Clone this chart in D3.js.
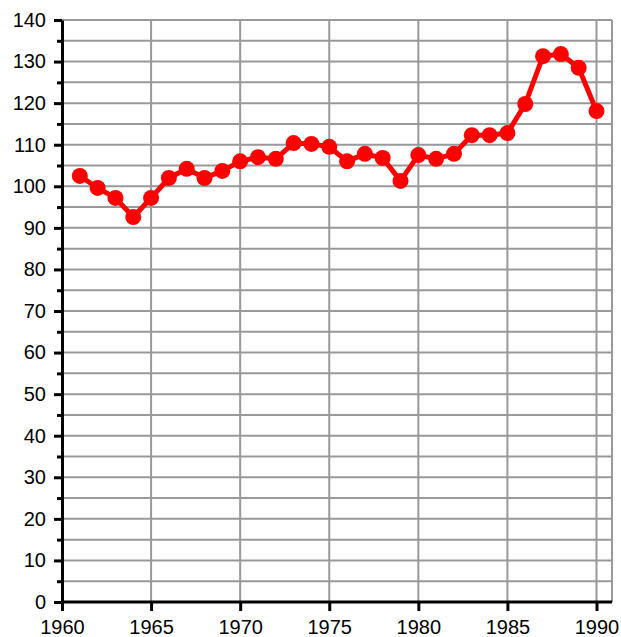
<!DOCTYPE html>
<html>
<head>
<meta charset="UTF-8">
<script src="https://d3js.org/d3.v7.min.js"></script>
<style>
  body { margin: 0; background: #fff; }
  text { font-family: "Liberation Sans", Arial, sans-serif; }
</style>
</head>
<body>
<script>
// years and values
const years = [1961, 1962, 1963, 1964, 1965, 1966, 1967, 1968, 1969, 1970,
               1971, 1972, 1973, 1974, 1975, 1976, 1977, 1978, 1979, 1980,
               1981, 1982, 1983, 1984, 1985, 1986, 1987, 1988, 1989, 1990];
const values = [102.5, 99.6, 97.2, 92.6, 97.2, 102, 104.2, 102, 103.7, 106,
                107, 106.6, 110.4, 110.2, 109.5, 106, 107.8, 106.8, 101.3, 107.5,
                106.6, 107.8, 112.3, 112.3, 112.8, 119.8, 131.3, 131.8, 128.5, 118.1];
const xTicks = [1960, 1965, 1970, 1975, 1980, 1985, 1990];
const yTicks = [0, 10, 20, 30, 40, 50, 60, 70, 80, 90, 100, 110, 120, 130, 140];

const width = 621, height = 637;
const mLeft = 62, mRight = 612, mTop = 20, mBottom = 602;

const svg = d3.select("body").append("svg").attr("width", width).attr("height", height);

const x = d3.scaleLinear().domain([1960, 1990]).range([mLeft, 596.5]);
const y = d3.scaleLinear().domain([0, 140]).range([mBottom, mTop]);

// grid lines
const grid = svg.append("g").attr("stroke", "#999").attr("stroke-width", 2);
d3.range(5, 141, 5).forEach(v => {
  grid.append("line").attr("x1", mLeft).attr("x2", mRight).attr("y1", y(v)).attr("y2", y(v));
});
xTicks.slice(1).map(x).concat([mRight]).forEach(px => {
  grid.append("line").attr("x1", px).attr("x2", px).attr("y1", mTop).attr("y2", mBottom);
});

// axes
const yAxis = svg.append("g").attr("transform", `translate(${mLeft},0)`)
  .call(d3.axisLeft(y).tickValues(d3.range(0, 141, 5)).tickSize(8).tickSizeOuter(0)
    .tickFormat(d => yTicks.includes(d) ? d : ""));
const xAxis = svg.append("g").attr("transform", `translate(0,${mBottom})`)
  .call(d3.axisBottom(x).tickValues(xTicks).tickSize(9).tickSizeOuter(0).tickFormat(d3.format("d")));
xAxis.select(".domain").attr("d", `M${mLeft},0H${mRight}`);

[yAxis, xAxis].forEach(a => {
  a.select(".domain").attr("stroke", "#000").attr("stroke-width", 3);
  a.selectAll(".tick line").attr("stroke", "#000").attr("stroke-width", 3);
  a.selectAll(".tick text").attr("fill", "#000").attr("font-size", 20);
});
// minor ticks are shorter
yAxis.selectAll(".tick").filter(d => !yTicks.includes(d)).select("line").attr("x2", -5);
yAxis.selectAll(".tick text").attr("x", -16);
xAxis.selectAll(".tick text").attr("y", 18);

// series
const pts = years.map((yr, i) => [yr, values[i]]);
svg.append("path").datum(pts)
  .attr("fill", "none").attr("stroke", "#ff0000").attr("stroke-width", 5)
  .attr("stroke-linejoin", "round")
  .attr("d", d3.line().x(d => x(d[0])).y(d => y(d[1])));
svg.append("g").selectAll("circle").data(pts).join("circle")
  .attr("cx", d => x(d[0])).attr("cy", d => y(d[1])).attr("r", 8)
  .attr("fill", "#ff0000");
</script>
</body>
</html>
